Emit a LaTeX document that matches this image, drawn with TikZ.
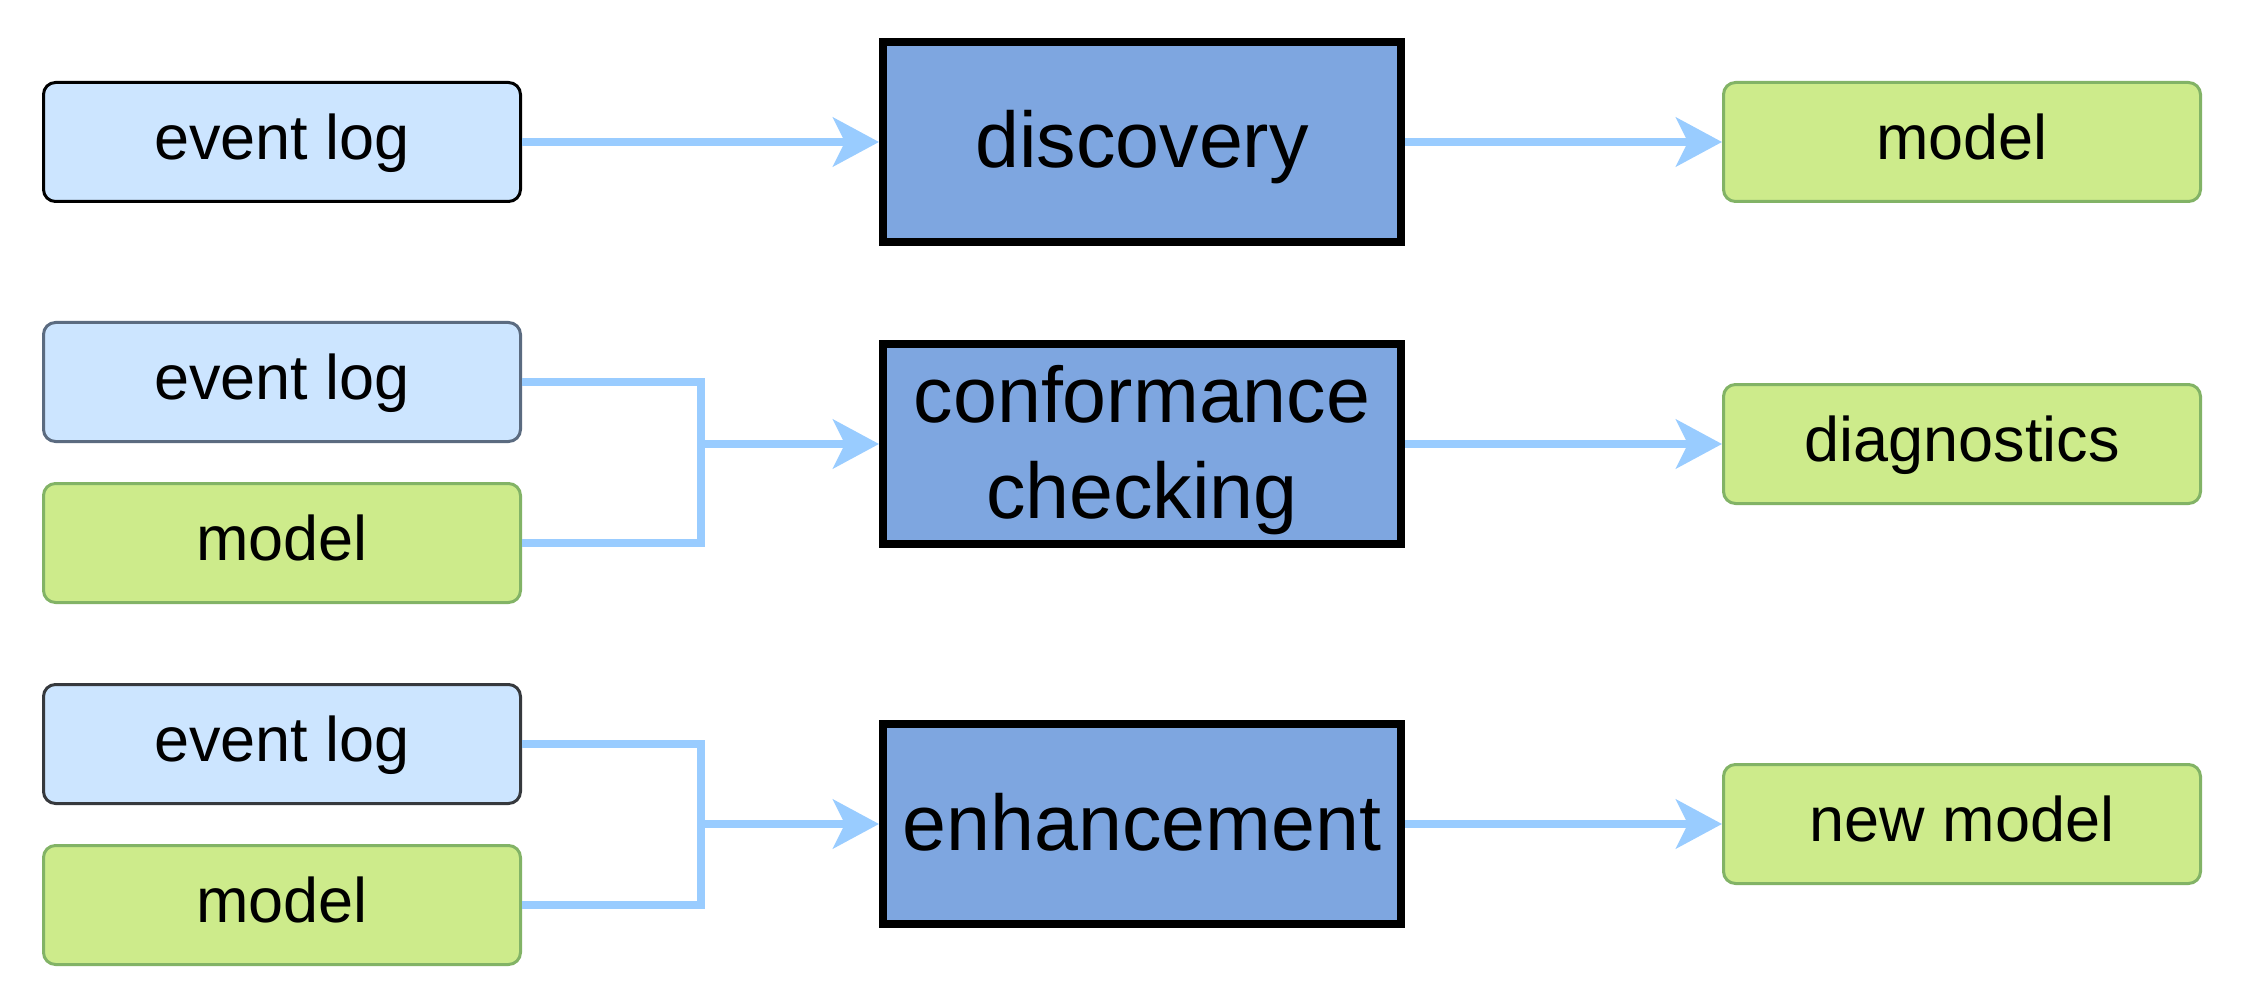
\documentclass[tikz,border=0pt]{standalone}
\usepackage{fontspec}
\setmainfont{Liberation Sans}
\usetikzlibrary{arrows.meta}
\definecolor{logfill}{HTML}{CCE5FF}
\definecolor{modelfill}{HTML}{CDEB8B}
\definecolor{modeldraw}{HTML}{82B366}
\definecolor{procfill}{HTML}{7EA6E0}
\definecolor{flowcol}{HTML}{99CCFF}
\definecolor{slateA}{HTML}{5B6B80}
\definecolor{slateB}{HTML}{36393D}
\tikzset{
  smallbox/.style={rectangle, rounded corners=12pt, line width=3pt,
    minimum width=477pt, minimum height=119pt, inner sep=0pt,
    font=\fontsize{63}{76}\selectfont, text height=48pt, text depth=13pt},
  logbox/.style={smallbox, fill=logfill, draw=black},
  modelbox/.style={smallbox, fill=modelfill, draw=modeldraw},
  procbox/.style={rectangle, line width=8pt, draw=black, fill=procfill,
    minimum width=518pt, minimum height=200pt, inner sep=0pt, align=center,
    font=\fontsize{79}{96}\selectfont, text height=68pt, text depth=16pt},
  flow/.style={draw=flowcol, line width=7.5pt},
  flowarrow/.style={flow, -{Stealth[length=46pt, width=49pt, inset=12pt]}}
}
\begin{document}
\begin{tikzpicture}[x=1pt, y=-1pt]
\useasboundingbox (0,0) rectangle (2244,1008);
% row 1
\node[logbox] (ev1) at (282,142) {event log};
\node[procbox] (disc) at (1142,142) {discovery};
\node[modelbox] (out1) at (1962,142) {model};
% row 2
\node[logbox, draw=slateA] (ev2) at (282,382) {event log};
\node[modelbox] (mod2) at (282,543) {model};
\node[procbox, text height=165pt] (conf) at (1142,444) {conformance\\checking};
\node[modelbox] (out2) at (1962,444) {diagnostics};
% row 3
\node[logbox, draw=slateB] (ev3) at (282,744) {event log};
\node[modelbox] (mod3) at (282,905) {model};
\node[procbox] (enh) at (1142,824) {enhancement};
\node[modelbox] (out3) at (1962,824) {new model};
% junctions
\coordinate (j2) at (701,444);
\coordinate (j3) at (701,824);
% connectors
\draw[flowarrow] (ev1.east) -- (disc.west);
\draw[flowarrow] (disc.east) -- (out1.west);
\draw[flow] (ev2.east) -| (j2);
\draw[flow] (mod2.east) -| (j2);
\draw[flowarrow] (j2) -- (conf.west);
\draw[flowarrow] (conf.east) -- (out2.west);
\draw[flow] (ev3.east) -| (j3);
\draw[flow] (mod3.east) -| (j3);
\draw[flowarrow] (j3) -- (enh.west);
\draw[flowarrow] (enh.east) -- (out3.west);
\end{tikzpicture}
\end{document}
